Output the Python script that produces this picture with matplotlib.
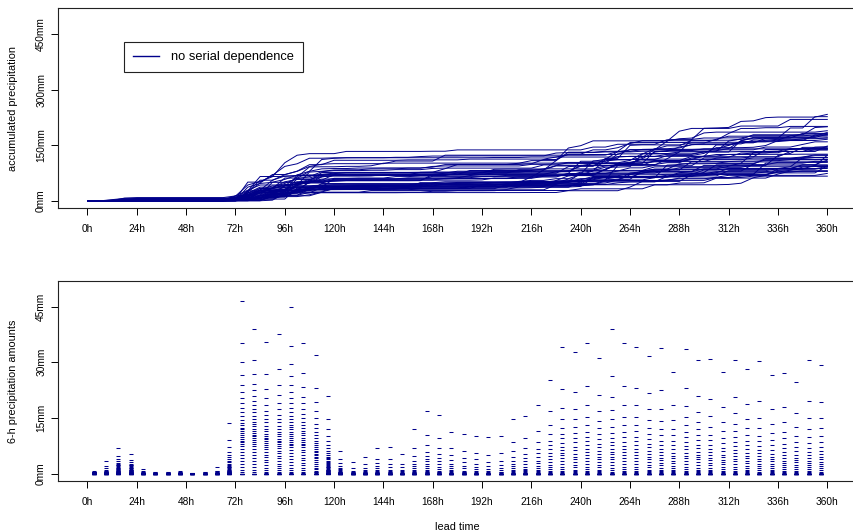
import numpy as np
import matplotlib
matplotlib.use("Agg")
import matplotlib.pyplot as plt
from matplotlib.lines import Line2D

plt.rcParams['font.family'] = ['Liberation Sans', 'DejaVu Sans']

n_members = 50
lead_hours = list(range(0, 361, 6))          # accumulation times
interval_mid = list(range(3, 360, 6))        # centre of each 6-h interval
tick_hours = list(range(0, 361, 24))
tick_labels = [str(h) + "h" for h in tick_hours]

# 6-h amounts (mm) of the wet members, largest first; the other members are dry
wet_amounts = [
    [0.8, 0.5, 0.4, 0.3, 0.3, 0.2, 0.2, 0.2, 0.1, 0.1, 0.1, 0.1, 0.1, 0.1, 0.1, 0.1, 0.1, 0.1],  # 3h
    [3.4, 2.1, 1.4, 0.9, 0.7, 0.6, 0.5, 0.4, 0.3, 0.3, 0.2, 0.2, 0.1, 0.1, 0.1, 0.1],  # 9h
    [6.8, 4.8, 3.8, 3.3, 2.9, 2.6, 2.4, 2.2, 2.0, 1.8, 1.6, 1.5, 1.3, 1.2, 1.0, 0.9, 0.8, 0.7,
     0.6, 0.5, 0.4, 0.3, 0.3, 0.2, 0.2, 0.1, 0.1],  # 15h
    [5.2, 3.6, 3.2, 2.7, 2.4, 2.2, 2.0, 1.8, 1.6, 1.4, 1.3, 1.1, 1.0, 0.9, 0.8, 0.7, 0.6, 0.5,
     0.4, 0.3, 0.3, 0.2, 0.2, 0.1, 0.1],  # 21h
    [1.2, 0.6, 0.4, 0.3, 0.2, 0.2, 0.1, 0.1],  # 27h
    [0.4, 0.3, 0.2, 0.1, 0.1],  # 33h
    [0.4, 0.3, 0.2, 0.1, 0.1],  # 39h
    [0.8, 0.5, 0.3, 0.2, 0.1, 0.1],  # 45h
    [0.2, 0.1, 0.1],  # 51h
    [0.5, 0.3, 0.2, 0.1],  # 57h
    [1.7, 0.8, 0.6, 0.4, 0.3, 0.2, 0.2, 0.1, 0.1],  # 63h
    [13.6, 9.1, 7.2, 5.9, 5.1, 4.5, 4.0, 3.5, 3.0, 2.7, 2.4, 2.1, 1.9, 1.7, 1.5, 1.3, 1.1, 1.0,
     0.8, 0.7, 0.6, 0.5, 0.4, 0.3, 0.3, 0.2, 0.2, 0.1, 0.1],  # 69h
    [46.4, 35.2, 30.1, 26.6, 24.0, 22.1, 20.3, 18.9, 17.6, 16.5, 15.5, 14.4, 13.7, 13.0, 12.4,
     11.9, 11.4, 10.9, 10.4, 9.9, 9.4, 8.9, 8.4, 7.9, 7.4, 6.6, 5.8, 5.0, 4.2, 3.4, 2.6, 1.8,
     1.0, 0.4],  # 75h
    [38.9, 30.7, 26.9, 24.2, 22.4, 20.8, 19.5, 18.5, 17.4, 16.5, 15.6, 14.8, 14.0, 13.3, 12.7,
     12.1, 11.5, 11.0, 10.5, 10.0, 9.5, 9.0, 8.5, 8.0, 7.5, 6.7, 5.9, 5.1, 4.3, 3.5, 2.7, 1.9,
     1.1, 0.5],  # 81h
    [35.5, 26.9, 22.9, 20.3, 18.5, 16.9, 15.8, 14.8, 13.8, 12.9, 12.1, 11.4, 10.8, 10.2, 9.7,
     9.2, 8.7, 8.2, 7.7, 7.2, 6.5, 5.8, 5.1, 4.4, 3.7, 3.0, 2.3, 1.6, 1.0, 0.5, 0.2],  # 87h
    [37.7, 28.2, 23.9, 21.1, 18.9, 17.4, 15.9, 14.8, 13.8, 12.8, 12.0, 11.3, 10.6, 10.0, 9.4,
     8.9, 8.4, 7.9, 7.4, 6.9, 6.2, 5.5, 4.8, 4.1, 3.4, 2.7, 2.0, 1.4, 0.9, 0.4, 0.1],  # 93h
    [44.8, 34.4, 29.5, 26.3, 23.9, 22.0, 20.3, 18.9, 17.7, 16.6, 15.6, 14.7, 13.9, 13.2, 12.5,
     11.9, 11.3, 10.7, 10.1, 9.6, 9.1, 8.6, 8.1, 7.6, 7.1, 6.3, 5.5, 4.7, 3.9, 3.1, 2.3, 1.6,
     1.0, 0.5, 0.2],  # 99h
    [35.3, 27.1, 23.3, 20.7, 18.9, 17.5, 16.1, 15.0, 14.0, 13.1, 12.3, 11.6, 10.9, 10.3, 9.7,
     9.1, 8.6, 8.1, 7.6, 7.1, 6.4, 5.7, 5.0, 4.3, 3.6, 2.9, 2.2, 1.5, 0.9, 0.4, 0.1],  # 105h
    [31.9, 23.2, 19.3, 16.8, 15.0, 13.5, 12.2, 11.2, 10.3, 9.5, 8.8, 8.2, 7.6, 7.1, 6.6, 6.1,
     5.7, 5.3, 4.9, 4.5, 4.1, 3.6, 3.1, 2.6, 2.1, 1.6, 1.2, 0.8, 0.5, 0.3, 0.1],  # 111h
    [21.0, 14.7, 11.9, 10.2, 8.9, 7.8, 6.9, 6.2, 5.6, 5.1, 4.6, 4.2, 3.8, 3.5, 3.2, 2.9, 2.6,
     2.3, 2.1, 1.9, 1.7, 1.5, 1.3, 1.1, 1.0, 0.9, 0.8, 0.7, 0.6, 0.5, 0.4, 0.3, 0.2, 0.2, 0.1,
     0.1],  # 117h
    [6.0, 3.8, 2.8, 2.1, 1.6, 1.2, 0.9, 0.7, 0.5, 0.4, 0.3, 0.2, 0.2, 0.1, 0.1],  # 123h
    [3.1, 1.4, 0.8, 0.5, 0.3, 0.2, 0.1, 0.1],  # 129h
    [4.6, 2.5, 1.5, 0.9, 0.6, 0.4, 0.3, 0.2, 0.1, 0.1],  # 135h
    [7.0, 4.0, 2.8, 2.1, 1.5, 0.9, 0.6, 0.4, 0.3, 0.2, 0.1, 0.1],  # 141h
    [7.1, 3.8, 2.5, 1.7, 1.1, 0.7, 0.5, 0.3, 0.2, 0.1],  # 147h
    [5.3, 2.7, 1.7, 1.1, 0.6, 0.4, 0.2, 0.1],  # 153h
    [12.0, 6.8, 4.8, 3.5, 2.6, 2.0, 1.4, 0.9, 0.6, 0.4, 0.3, 0.2, 0.1],  # 159h
    [16.8, 10.4, 7.6, 5.9, 4.8, 4.0, 3.3, 2.6, 2.0, 1.4, 1.0, 0.7, 0.5, 0.3, 0.2, 0.1],  # 165h
    [15.8, 9.6, 6.9, 5.2, 4.1, 3.3, 2.5, 1.9, 1.3, 0.8, 0.5, 0.3, 0.2, 0.1],  # 171h
    [11.3, 6.9, 4.9, 3.6, 2.7, 2.0, 1.4, 0.9, 0.6, 0.4, 0.2, 0.1],  # 177h
    [10.8, 6.1, 4.2, 3.0, 2.1, 1.4, 0.8, 0.5, 0.3, 0.2, 0.1],  # 183h
    [10.1, 5.6, 3.8, 2.6, 1.8, 1.2, 0.7, 0.4, 0.2, 0.1],  # 189h
    [9.9, 5.1, 3.2, 2.1, 1.3, 0.7, 0.4, 0.2, 0.1],  # 195h
    [10.1, 5.5, 3.5, 2.4, 1.6, 1.0, 0.5, 0.3, 0.1],  # 201h
    [14.7, 8.6, 6.0, 4.6, 3.5, 2.7, 2.0, 1.4, 0.9, 0.6, 0.4, 0.2, 0.1],  # 207h
    [15.4, 9.5, 6.9, 5.3, 4.2, 3.3, 2.6, 1.9, 1.3, 0.9, 0.6, 0.4, 0.2, 0.1],  # 213h
    [18.5, 11.5, 8.6, 6.7, 5.5, 4.4, 3.5, 2.8, 2.1, 1.5, 1.0, 0.7, 0.4, 0.2, 0.1],  # 219h
    [25.3, 16.8, 13.1, 10.6, 8.9, 7.6, 6.5, 5.5, 4.7, 3.9, 3.1, 2.4, 1.8, 1.2, 0.7, 0.3, 0.1],  # 225h
    [34.1, 22.8, 17.7, 14.7, 12.4, 10.8, 9.5, 8.3, 7.3, 6.4, 5.6, 4.9, 4.2, 3.4, 2.6, 1.9, 1.3,
     0.8, 0.4, 0.1],  # 231h
    [32.7, 22.1, 17.5, 14.6, 12.5, 10.9, 9.5, 8.4, 7.3, 6.3, 5.4, 4.6, 3.9, 3.1, 2.4, 1.7, 1.1,
     0.6, 0.3, 0.1],  # 237h
    [35.1, 23.6, 18.5, 15.3, 13.0, 11.3, 9.9, 8.7, 7.6, 6.6, 5.7, 4.9, 4.2, 3.4, 2.6, 1.9, 1.3,
     0.8, 0.4, 0.1],  # 243h
    [31.1, 21.3, 16.9, 14.1, 12.2, 10.6, 9.3, 8.1, 7.1, 6.1, 5.3, 4.5, 3.9, 3.1, 2.4, 1.7, 1.1,
     0.6, 0.3, 0.1],  # 249h
    [39.0, 26.2, 20.6, 17.1, 14.6, 12.6, 11.0, 9.7, 8.5, 7.6, 6.6, 5.9, 5.2, 4.6, 3.8, 3.0, 2.3,
     1.6, 1.0, 0.5, 0.2],  # 255h
    [35.2, 23.6, 18.5, 15.3, 13.1, 11.2, 9.8, 8.6, 7.5, 6.6, 5.7, 4.9, 4.2, 3.4, 2.6, 1.9, 1.3,
     0.8, 0.4, 0.1],  # 261h
    [34.1, 23.2, 18.5, 15.3, 13.1, 11.4, 9.9, 8.7, 7.6, 6.6, 5.7, 4.9, 4.2, 3.4, 2.6, 1.9, 1.3,
     0.8, 0.4, 0.1],  # 267h
    [31.7, 21.8, 17.3, 14.4, 12.3, 10.7, 9.3, 8.1, 7.1, 6.2, 5.4, 4.6, 3.9, 3.1, 2.4, 1.7, 1.1,
     0.6, 0.3, 0.1],  # 273h
    [33.9, 22.5, 17.5, 14.3, 12.1, 10.3, 8.9, 7.7, 6.6, 5.7, 4.9, 4.2, 3.6, 2.9, 2.2, 1.6, 1.0,
     0.6, 0.3, 0.1],  # 279h
    [27.3, 18.4, 14.5, 12.0, 10.3, 8.9, 7.7, 6.6, 5.6, 4.8, 4.1, 3.5, 2.8, 2.1, 1.5, 1.0, 0.6,
     0.3, 0.1],  # 285h
    [33.6, 23.0, 18.2, 15.2, 13.0, 11.3, 9.8, 8.6, 7.5, 6.5, 5.6, 4.8, 4.1, 3.3, 2.5, 1.8, 1.2,
     0.7, 0.3, 0.1],  # 291h
    [30.5, 21.0, 16.6, 13.9, 11.9, 10.3, 9.0, 7.8, 6.8, 5.9, 5.1, 4.4, 3.8, 3.0, 2.3, 1.6, 1.0,
     0.6, 0.3, 0.1],  # 297h
    [30.9, 20.2, 15.5, 12.6, 10.4, 9.0, 7.7, 6.6, 5.7, 4.9, 4.2, 3.6, 2.9, 2.2, 1.6, 1.0, 0.6,
     0.3, 0.1],  # 303h
    [27.5, 18.0, 14.0, 11.4, 9.6, 8.2, 7.0, 6.0, 5.1, 4.4, 3.7, 3.1, 2.5, 1.9, 1.3, 0.8, 0.4,
     0.1],  # 309h
    [30.5, 20.7, 16.3, 13.5, 11.4, 9.8, 8.5, 7.4, 6.4, 5.5, 4.7, 4.0, 3.3, 2.6, 1.9, 1.3, 0.8,
     0.4, 0.1],  # 315h
    [28.1, 18.8, 14.8, 12.2, 10.3, 8.8, 7.6, 6.5, 5.6, 4.8, 4.1, 3.5, 2.8, 2.1, 1.5, 1.0, 0.6,
     0.3, 0.1],  # 321h
    [30.3, 19.7, 15.0, 12.2, 10.2, 8.7, 7.5, 6.4, 5.5, 4.7, 4.0, 3.4, 2.7, 2.0, 1.4, 0.9, 0.5,
     0.2],  # 327h
    [26.7, 17.4, 13.4, 10.9, 9.0, 7.6, 6.4, 5.4, 4.6, 3.9, 3.3, 2.7, 2.1, 1.5, 1.0, 0.6, 0.3,
     0.1],  # 333h
    [27.2, 17.9, 13.9, 11.3, 9.5, 8.0, 6.8, 5.8, 4.9, 4.2, 3.5, 2.9, 2.3, 1.7, 1.2, 0.7, 0.3,
     0.1],  # 339h
    [24.8, 16.2, 12.5, 10.1, 8.4, 7.1, 6.0, 5.1, 4.3, 3.6, 3.0, 2.4, 1.8, 1.3, 0.8, 0.4, 0.1],  # 345h
    [30.5, 19.5, 14.9, 11.9, 9.8, 8.2, 7.0, 5.9, 5.0, 4.2, 3.5, 2.9, 2.3, 1.7, 1.2, 0.7, 0.3,
     0.1],  # 351h
    [29.2, 19.2, 14.9, 12.2, 10.2, 8.6, 7.3, 6.2, 5.3, 4.5, 3.8, 3.2, 2.6, 2.0, 1.4, 0.9, 0.5,
     0.2],  # 357h
]

# members are re-ordered at every step (no serial dependence): scramble ranks per interval
amounts = np.zeros((n_members, len(interval_mid)))
member_no = np.arange(1, n_members + 1)
for t, wet in enumerate(wet_amounts):
    col = np.zeros(n_members)
    col[:len(wet)] = wet
    key = (member_no ** 3 * (2 * t + 3) + member_no ** 2 * (t + 1) + 7 * member_no) % 101
    amounts[:, t] = col[np.argsort(key, kind='stable')]
accumulated = np.hstack([np.zeros((n_members, 1)), np.cumsum(amounts, axis=1)])

col = '#00008B'
fig = plt.figure(figsize=(8.54, 5.32), dpi=100)
ax1 = fig.add_axes([57.9 / 854, 1 - 208.3 / 532, 799 / 854, 200 / 532])
ax2 = fig.add_axes([57.9 / 854, 1 - 481 / 532, 799 / 854, 200.3 / 532])

for m in range(n_members):
    ax1.plot(lead_hours, accumulated[m], color=col, lw=0.7)

xs = np.repeat(np.array(interval_mid)[None, :], n_members, axis=0)
ax2.plot(xs.ravel(), amounts.ravel(), ls='none', marker='_', ms=2.4, mew=0.75, color=col)

ax1.set_ylim(-20, 520)
ax1.set_yticks([0, 150, 300, 450])
ax1.set_yticklabels(["0mm", "150mm", "300mm", "450mm"])
ax1.set_ylabel("accumulated precipitation", fontsize=7.8, va='center')
ax1.yaxis.set_label_coords((13 - 57.9) / 799, 0.5)

ax2.set_ylim(-2, 52)
ax2.set_yticks([0, 15, 30, 45])
ax2.set_yticklabels(["0mm", "15mm", "30mm", "45mm"])
ax2.set_ylabel("6-h precipitation amounts", fontsize=7.8, va='center')
ax2.yaxis.set_label_coords((13 - 57.9) / 799, 0.5)
ax2.set_xlabel("lead time", fontsize=7.8, va='center')
ax2.xaxis.set_label_coords(0.5, -(527.5 - 481) / 200.3)

for ax in (ax1, ax2):
    ax.set_xlim(-14.4, 374.4)
    ax.set_xticks(tick_hours)
    ax.set_xticklabels(tick_labels)
    ax.tick_params(axis='x', direction='out', length=5, width=0.7, pad=6.3, labelsize=7.3)
    ax.tick_params(axis='y', direction='out', length=5, width=0.7, pad=3.5, labelsize=7.3)
    plt.setp(ax.get_yticklabels(), rotation=90, va='center')
    for s in ax.spines.values():
        s.set_linewidth(0.8)
        s.set_color('#222222')

handle = Line2D([], [], color=col, lw=1.0)
leg = ax1.legend([handle], ["no serial dependence"], loc='upper left',
                 bbox_to_anchor=((124 - 57.9) / 799, (208.3 - 41.7) / 200), borderaxespad=0,
                 fontsize=9.3, frameon=True, fancybox=False, framealpha=1,
                 handlelength=2.0, handletextpad=0.9, borderpad=0.72)
leg.get_frame().set_edgecolor('#222222')
leg.get_frame().set_linewidth(0.8)

fig.savefig("out.png", dpi=100)
